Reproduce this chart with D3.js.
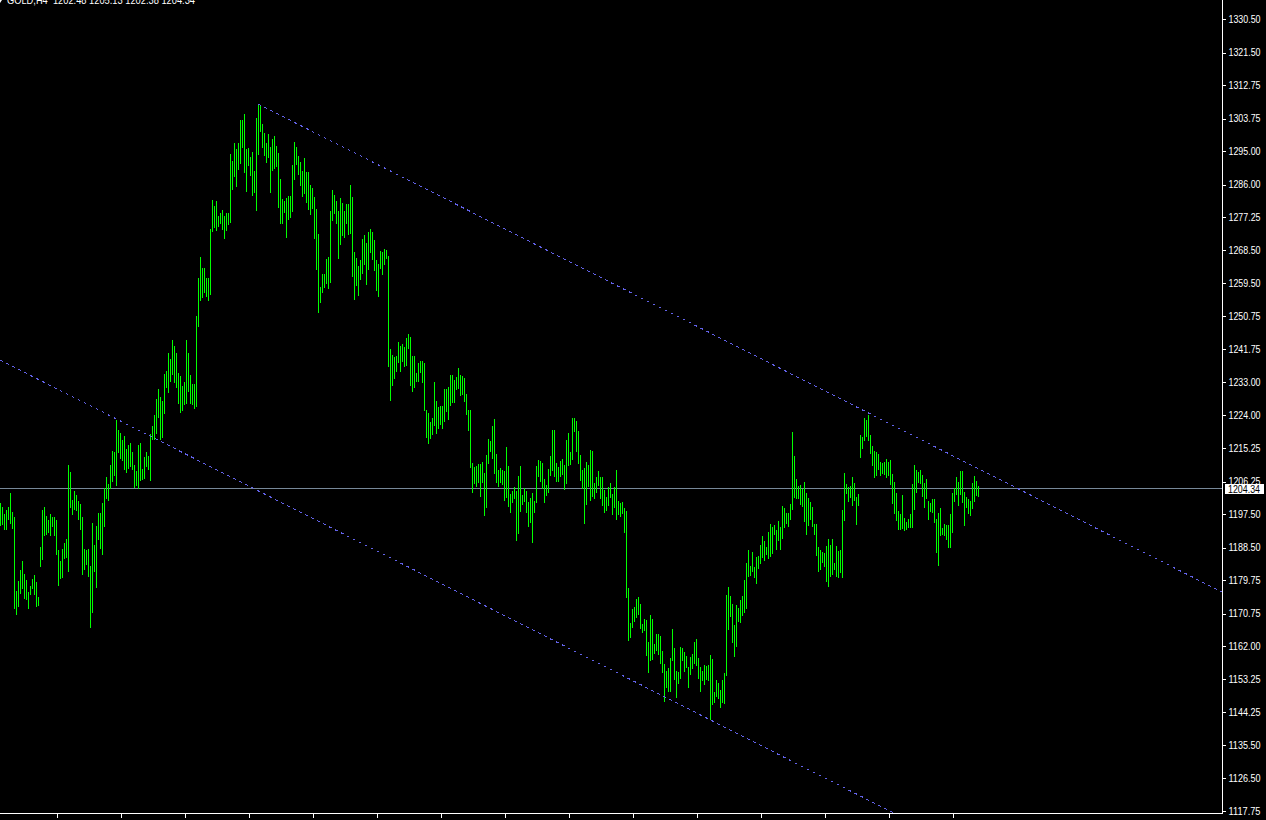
<!DOCTYPE html>
<html>
<head>
<meta charset="utf-8">
<script src="https://cdn.jsdelivr.net/npm/d3@7"></script>
<style>
  html, body { margin: 0; padding: 0; background: #000; overflow: hidden; }
  svg { display: block; }
</style>
</head>
<body>
<svg id="chart" width="1266" height="820"></svg>
<script>
// ---- data: GOLD, H4 bars (high / low) ----
const symbol = "GOLD,H4";
const lastBar = [1202.48, 1205.13, 1202.38, 1204.34]; // open, high, low, close

const highs = [
1200.6,1199.3,1197.4,1198.5,1199.5,1203.3,1198.2,1196.8,1176.9,1179.6,
1182.6,1184.8,1181.5,1179.9,1176.7,1178.3,1180.1,1181.2,1179.3,1175.3,
1188.8,1198.7,1199.3,1197.1,1196.0,1197.4,1196.6,1196.6,1195.8,1187.8,
1184.8,1188.0,1189.7,1190.7,1210.6,1208.8,1201.4,1203.8,1202.7,1200.9,
1200.1,1196.6,1188.0,1187.8,1188.0,1183.6,1195.0,1189.1,1194.4,1197.9,
1197.9,1200.6,1204.5,1207.4,1205.5,1210.6,1214.5,1214.2,1222.9,1220.0,
1219.2,1217.3,1218.6,1215.0,1216.1,1216.6,1214.2,1210.6,1209.0,1216.1,
1216.6,1209.6,1212.8,1214.2,1213.0,1218.9,1221.3,1224.1,1228.4,1231.1,
1228.9,1227.9,1235.2,1236.0,1240.9,1239.2,1244.2,1242.7,1240.9,1235.5,
1234.7,1231.9,1233.0,1244.4,1240.9,1234.9,1232.4,1232.4,1250.7,1260.8,
1266.5,1263.5,1263.5,1261.0,1261.0,1274.0,1282.0,1280.4,1281.5,1277.7,
1278.5,1279.1,1277.5,1278.5,1278.3,1294.2,1292.4,1297.3,1295.6,1297.3,
1303.5,1303.3,1304.9,1295.6,1295.8,1293.5,1294.8,1289.7,1303.9,1307.7,
1307.1,1302.3,1299.9,1297.2,1299.6,1296.1,1298.3,1299.1,1296.4,1294.5,
1287.5,1282.1,1281.6,1282.4,1282.9,1282.9,1291.3,1297.5,1296.1,1293.7,
1292.1,1289.7,1293.2,1289.4,1289.4,1285.9,1285.1,1282.7,1279.5,1272.8,
1258.5,1262.0,1262.0,1266.0,1266.6,1278.9,1284.6,1283.2,1281.6,1278.9,
1282.4,1281.1,1278.9,1280.8,1280.8,1285.9,1282.7,1267.9,1266.3,1264.2,
1265.8,1271.4,1272.5,1270.3,1273.3,1274.1,1273.3,1271.1,1265.8,1264.7,
1268.2,1267.9,1268.7,1268.4,1266.8,1241.9,1240.2,1239.7,1240.0,1243.7,
1242.7,1243.2,1242.4,1244.8,1245.9,1245.1,1240.0,1240.0,1235.4,1238.1,
1238.6,1238.6,1238.1,1225.5,1224.7,1222.2,1223.3,1233.0,1227.9,1226.3,
1226.5,1226.5,1231.1,1231.1,1231.6,1234.8,1234.8,1233.5,1234.3,1236.8,
1234.8,1234.6,1234.1,1229.8,1225.5,1225.5,1211.2,1210.2,1210.4,1211.0,
1211.0,1211.5,1208.5,1213.4,1217.7,1217.1,1221.2,1223.0,1213.6,1209.4,
1209.9,1209.4,1209.1,1215.5,1210.4,1202.9,1203.7,1204.8,1203.7,1207.7,
1210.4,1202.6,1204.5,1203.7,1200.8,1201.8,1203.2,1201.0,1210.4,1212.0,
1211.8,1211.2,1206.9,1205.3,1209.6,1213.2,1220.1,1220.1,1211.2,1210.2,
1211.8,1212.3,1210.7,1217.4,1219.3,1214.2,1223.3,1223.3,1222.5,1219.8,
1213.4,1209.4,1209.9,1211.5,1210.7,1214.7,1214.4,1205.9,1207.5,1209.1,
1207.5,1207.5,1204.0,1202.1,1204.8,1205.9,1202.9,1204.8,1209.4,1201.0,
1200.5,1200.8,1199.1,1198.3,1177.6,1168.2,1172.0,1172.6,1174.7,1175.2,
1173.4,1168.0,1169.3,1169.1,1163.1,1170.4,1169.3,1162.6,1165.3,1165.3,
1164.8,1160.7,1157.2,1155.4,1156.2,1158.9,1166.6,1161.5,1155.4,1155.1,
1161.8,1161.5,1160.5,1159.4,1156.4,1159.1,1159.9,1163.1,1164.0,1158.9,
1156.4,1155.4,1156.9,1156.7,1156.9,1159.7,1158.6,1149.7,1152.9,1152.1,
1150.3,1152.9,1154.8,1175.8,1177.9,1175.5,1173.4,1167.7,1173.1,1172.3,
1174.4,1175.5,1179.8,1184.4,1187.9,1183.6,1187.3,1183.3,1186.0,1186.2,
1189.2,1191.6,1190.3,1188.7,1192.7,1194.9,1194.0,1194.6,1193.2,1195.7,
1194.0,1199.7,1199.1,1197.8,1197.8,1200.2,1219.6,1213.1,1206.9,1205.1,
1205.3,1204.2,1206.1,1203.2,1201.8,1200.8,1199.4,1194.9,1194.9,1188.7,
1187.9,1187.3,1187.1,1188.9,1190.8,1189.2,1190.8,1184.4,1188.9,1187.6,
1187.9,1198.6,1208.5,1205.6,1204.8,1205.1,1207.5,1205.9,1202.1,1202.9,
1218.8,1218.2,1223.3,1222.8,1224.1,1218.8,1215.8,1214.4,1214.2,1213.6,
1211.5,1211.2,1211.5,1212.3,1211.5,1212.0,1208.3,1206.1,1203.2,1198.3,
1197.5,1202.6,1196.5,1195.4,1196.2,1197.5,1205.6,1210.7,1209.4,1208.8,
1209.4,1208.0,1205.9,1206.9,1201.0,1200.5,1201.6,1201.6,1196.2,1197.8,
1199.1,1193.8,1194.9,1194.6,1194.6,1197.5,1203.2,1204.5,1207.5,1206.1,
1209.1,1209.1,1203.4,1202.1,1201.6,1201.0,1205.9,1207.7,1206.4,1205.13
];

const lows = [
1194.6,1194.9,1193.5,1193.5,1196.3,1195.2,1193.8,1172.4,1170.6,1172.9,
1176.4,1177.7,1175.0,1174.8,1172.4,1176.1,1177.7,1176.1,1172.9,1173.2,
1183.5,1185.4,1191.8,1192.1,1192.6,1191.8,1194.2,1191.8,1186.7,1178.5,
1180.4,1180.7,1185.6,1185.9,1182.3,1199.5,1197.4,1199.0,1198.5,1196.3,
1193.6,1181.5,1182.8,1184.0,1181.0,1167.3,1171.1,1182.3,1178.0,1190.7,
1188.3,1186.7,1194.2,1201.7,1201.4,1204.5,1206.3,1208.0,1205.3,1214.2,
1212.5,1212.0,1209.6,1208.8,1209.8,1210.4,1209.6,1204.7,1205.3,1204.5,
1206.6,1206.9,1207.1,1210.4,1209.6,1206.6,1217.8,1217.8,1219.2,1223.7,
1217.6,1218.1,1224.6,1231.6,1230.3,1233.2,1235.2,1233.0,1231.6,1227.3,
1224.9,1225.4,1227.1,1227.3,1230.5,1227.3,1227.1,1226.0,1226.5,1248.0,
1255.1,1255.7,1257.3,1256.2,1254.9,1256.7,1273.6,1274.7,1273.9,1275.0,
1275.6,1274.1,1271.7,1273.9,1275.3,1276.1,1284.8,1288.3,1285.6,1290.2,
1291.8,1296.2,1289.4,1284.3,1291.3,1288.6,1283.2,1284.0,1279.2,1294.2,
1300.4,1296.1,1294.0,1292.1,1293.5,1284.0,1289.9,1290.5,1291.0,1280.0,
1275.7,1275.7,1278.7,1271.9,1276.8,1277.3,1278.9,1287.5,1291.5,1288.9,
1285.9,1282.9,1283.8,1281.3,1279.5,1278.1,1279.7,1271.7,1263.3,1251.8,
1254.5,1257.2,1258.5,1259.6,1258.2,1259.8,1276.5,1278.4,1275.7,1266.3,
1270.1,1272.5,1271.9,1275.7,1272.8,1273.0,1261.5,1255.3,1259.0,1256.4,
1260.7,1262.3,1264.7,1259.3,1263.3,1267.9,1266.0,1263.1,1257.7,1256.1,
1263.6,1262.0,1264.7,1266.3,1237.3,1228.2,1232.2,1234.1,1235.9,1238.4,
1235.9,1238.6,1237.3,1237.6,1242.1,1232.2,1230.6,1231.6,1233.3,1233.3,
1235.7,1233.0,1225.5,1218.2,1216.6,1217.9,1219.0,1221.4,1219.3,1220.6,
1221.7,1220.6,1222.5,1225.2,1223.0,1226.8,1227.6,1227.6,1231.1,1231.4,
1229.5,1229.8,1227.9,1224.4,1220.1,1210.2,1203.4,1205.9,1205.1,1206.1,
1202.4,1206.1,1197.3,1199.4,1211.2,1214.4,1212.6,1208.5,1206.1,1205.1,
1206.1,1205.6,1201.3,1202.1,1199.7,1198.1,1200.8,1201.8,1190.5,1192.4,
1198.3,1200.2,1201.0,1198.1,1194.3,1195.4,1190.0,1198.1,1200.8,1207.7,
1206.4,1204.5,1200.8,1202.6,1203.4,1208.0,1209.4,1207.7,1206.4,1206.4,
1207.7,1208.3,1204.2,1205.9,1210.7,1211.0,1212.3,1219.8,1214.4,1211.2,
1206.7,1204.5,1195.1,1200.2,1205.1,1201.3,1202.4,1201.8,1203.4,1205.3,
1201.8,1200.0,1198.1,1198.6,1200.0,1202.1,1197.5,1199.4,1196.2,1197.5,
1197.0,1197.8,1192.7,1175.2,1163.7,1164.5,1167.2,1168.8,1169.9,1170.7,
1166.9,1165.8,1166.4,1159.7,1155.1,1158.3,1158.6,1160.2,1161.0,1159.9,
1157.5,1155.1,1147.3,1151.1,1150.0,1150.0,1158.3,1153.2,1148.4,1152.1,
1153.5,1158.3,1155.4,1156.4,1151.1,1154.6,1156.2,1157.5,1156.9,1153.5,
1150.0,1152.9,1151.9,1153.2,1152.9,1142.5,1146.5,1147.0,1148.6,1148.1,
1145.7,1147.0,1146.8,1154.3,1166.6,1170.1,1163.1,1159.4,1162.1,1168.8,
1168.5,1170.4,1171.2,1172.3,1180.9,1181.1,1182.2,1180.6,1179.0,1183.0,
1184.4,1186.0,1185.2,1186.8,1185.7,1186.2,1187.1,1192.2,1188.1,1190.5,
1188.1,1191.1,1194.0,1195.1,1194.3,1196.2,1198.9,1202.1,1201.8,1201.8,
1200.2,1199.7,1195.7,1192.2,1194.6,1196.2,1194.3,1192.2,1186.5,1182.2,
1182.8,1184.6,1183.6,1179.5,1178.2,1180.9,1181.4,1182.8,1180.9,1180.6,
1182.0,1180.6,1195.9,1203.2,1201.0,1202.1,1200.0,1201.3,1194.9,1200.0,
1212.9,1215.3,1217.4,1218.5,1217.4,1213.9,1210.7,1207.5,1208.0,1209.6,
1208.0,1208.5,1208.3,1207.5,1208.0,1205.6,1200.5,1197.8,1195.9,1193.5,
1193.5,1193.8,1193.2,1193.5,1194.1,1194.1,1194.1,1198.9,1203.4,1206.1,
1205.9,1202.4,1199.4,1201.8,1196.2,1198.3,1198.1,1195.4,1187.3,1183.8,
1191.9,1192.2,1191.9,1190.8,1188.7,1188.7,1192.7,1201.0,1202.9,1200.0,
1202.9,1200.8,1194.6,1199.4,1197.8,1197.3,1199.1,1201.0,1202.6,1202.38
];

// price scale labels
const priceTicks = [1330.50,1321.50,1312.75,1303.75,1295.00,1286.00,1277.25,1268.50,
  1259.50,1250.75,1241.75,1233.00,1224.00,1215.25,1206.25,1197.50,1188.50,1179.75,
  1170.75,1162.00,1153.25,1144.25,1135.50,1126.50,1117.75];

// time-scale tick bars (labels fall below the visible window)
const timeTickBars = [28,60,92,124,156,188,220,252,284,316,348,380,412,444,476];

// channel trend lines: anchor points (bar index, price)
const upperLine = [{bar:129, price:1307.67}, {bar:611, price:1176.58}];
const lowerLine = [{bar:0, price:1238.90}, {bar:447, price:1117.21}];

// ---- drawing ----
const W = 1266, H = 820;
const plotW = 1222, plotH = 813;
const FONT = "'Liberation Sans', Arial, sans-serif";
const svg = d3.select("#chart");
svg.append("rect").attr("width", W).attr("height", H).attr("fill", "#000");

const slots = plotW / 2; // one bar every 2 px
const x = d3.scaleLinear().domain([0, slots]).range([0, plotW]);
const y = d3.scaleLinear().domain([priceTicks[priceTicks.length-1], priceTicks[0]]).range([811, 19]);

svg.append("defs").append("clipPath").attr("id", "plot")
  .append("rect").attr("x", 0).attr("y", 0).attr("width", plotW).attr("height", plotH);

const plot = svg.append("g").attr("clip-path", "url(#plot)");

// bid line
const bid = lastBar[3];
plot.append("line")
  .attr("x1", 0).attr("x2", plotW)
  .attr("y1", Math.round(y(bid)) - 0.5).attr("y2", Math.round(y(bid)) - 0.5)
  .attr("stroke", "#778899").attr("stroke-width", 1)
  .attr("shape-rendering", "crispEdges");

// bars
const bars = highs.map((h, i) => ({i, h, l: lows[i]}));
plot.append("g").selectAll("line").data(bars).join("line")
  .attr("x1", d => Math.round(x(d.i)) + 0.5)
  .attr("x2", d => Math.round(x(d.i)) + 0.5)
  .attr("y1", d => Math.round(y(d.h)))
  .attr("y2", d => Math.round(y(d.l)) + 1)
  .attr("stroke", "#00ff00").attr("stroke-width", 1)
  .attr("shape-rendering", "crispEdges");

// trend lines (rays extended to the right edge)
function ray(pts, toBar) {
  const [a, b] = pts;
  const slope = (b.price - a.price) / (b.bar - a.bar);
  return [[x(a.bar), y(a.price)], [x(toBar), y(a.price + slope * (toBar - a.bar))]];
}
[upperLine, lowerLine].forEach(pts => {
  const seg = ray(pts, slots);
  plot.append("line")
    .attr("x1", seg[0][0]).attr("y1", seg[0][1])
    .attr("x2", seg[1][0]).attr("y2", seg[1][1])
    .attr("stroke", "#6262e8").attr("stroke-width", 1)
    .attr("stroke-dasharray", "3,3.7")
    .attr("shape-rendering", "crispEdges");
});

// right price axis
const yAxis = d3.axisRight(y).tickValues(priceTicks).tickSize(3).tickPadding(3)
  .tickFormat(d3.format(".2f"));
const ya = svg.append("g").attr("transform", `translate(${plotW + 0.5},0)`).call(yAxis);
ya.select(".domain").remove();
ya.selectAll(".tick line").attr("stroke", "#fff").attr("shape-rendering", "crispEdges");
ya.selectAll(".tick text")
  .attr("fill", "#fff")
  .attr("font-family", FONT)
  .attr("font-size", "10px")
  .attr("textLength", 32).attr("lengthAdjust", "spacingAndGlyphs");

// bottom time axis
const xAxis = d3.axisBottom(x).tickValues(timeTickBars).tickSize(4).tickFormat("");
const xa = svg.append("g").attr("transform", `translate(0.5,${plotH + 0.5})`).call(xAxis);
xa.select(".domain").remove();
xa.selectAll(".tick line").attr("stroke", "#fff").attr("shape-rendering", "crispEdges");

// frame lines
svg.append("line").attr("x1", plotW + 0.5).attr("x2", plotW + 0.5).attr("y1", 0).attr("y2", plotH + 1)
  .attr("stroke", "#fff").attr("shape-rendering", "crispEdges");
svg.append("line").attr("x1", 0).attr("x2", plotW + 1).attr("y1", plotH + 0.5).attr("y2", plotH + 0.5)
  .attr("stroke", "#fff").attr("shape-rendering", "crispEdges");

// current price label
const by = Math.round(y(bid));
svg.append("rect").attr("x", plotW + 3).attr("y", by - 5).attr("width", 39).attr("height", 10)
  .attr("fill", "#fff").attr("shape-rendering", "crispEdges");
svg.append("text").attr("x", plotW + 6).attr("y", by + 4)
  .attr("fill", "#000")
  .attr("font-family", FONT)
  .attr("font-size", "10px")
  .attr("textLength", 32).attr("lengthAdjust", "spacingAndGlyphs")
  .text(d3.format(".2f")(bid));

// header text
svg.append("path").attr("d", "M0,0 L2,0 L0,3 Z").attr("fill", "#fff");
svg.append("text").attr("x", 7).attr("y", 4)
  .attr("fill", "#fff")
  .attr("font-family", FONT)
  .attr("font-size", "11px")
  .attr("textLength", 188).attr("lengthAdjust", "spacingAndGlyphs")
  .attr("xml:space", "preserve")
  .text(symbol + "  " + lastBar.map(v => v.toFixed(2)).join(" "));
</script>
</body>
</html>
